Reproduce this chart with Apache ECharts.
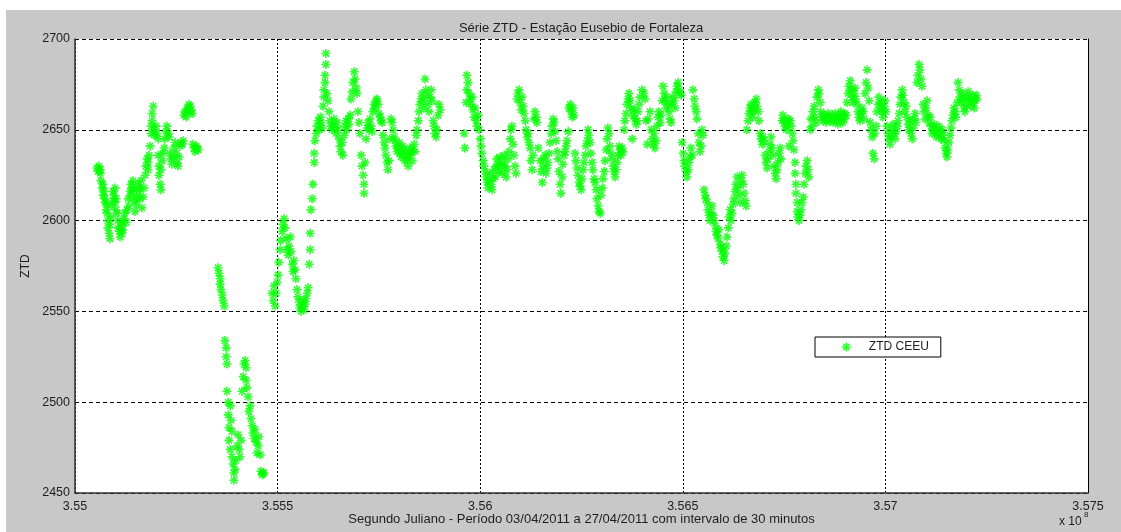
<!DOCTYPE html>
<html>
<head>
<meta charset="utf-8">
<script src="https://cdn.jsdelivr.net/npm/echarts@6/dist/echarts.min.js"></script>
<style>
  html, body { margin: 0; padding: 0; background: #ffffff; }
  #bg { position: absolute; left: 6px; top: 10px; width: 1115px; height: 522px; background: #c8c8c8; }
  #chart { position: absolute; left: 0; top: 0; width: 1121px; height: 532px; }
</style>
</head>
<body>
<div id="bg"></div>
<div id="chart"></div>
<script>
// x: Segundo Juliano (units of 1e8 s), y: ZTD (mm)
const periodo1 = [[3.55054,2629],[3.55057,2627],[3.55059,2630],[3.55062,2626],[3.55062,2628],[3.55064,2622],[3.55067,2618],[3.55069,2620],[3.55069,2614],[3.55072,2616],[3.55074,2610],[3.55074,2612],[3.55077,2606],[3.55079,2604],[3.55079,2609],[3.55081,2600],[3.55081,2596],[3.55084,2593],[3.55086,2590],[3.55086,2598],[3.55089,2602],[3.55091,2608],[3.55094,2611],[3.55094,2616],[3.55096,2614],[3.55099,2618],[3.55099,2610],[3.55101,2606],[3.55101,2612],[3.55104,2604],[3.55106,2600],[3.55106,2596],[3.55109,2594],[3.55111,2591],[3.55114,2597],[3.55116,2593],[3.55116,2599],[3.55118,2595],[3.55121,2601],[3.55123,2604],[3.55126,2599],[3.55128,2606],[3.55131,2612],[3.55133,2608],[3.55136,2616],[3.55138,2620],[3.55138,2614],[3.55141,2618],[3.55143,2622],[3.55146,2611],[3.55146,2617],[3.55148,2605],[3.55151,2609],[3.55153,2613],[3.55155,2620],[3.55158,2616],[3.55160,2612],[3.55160,2618],[3.55163,2622],[3.55165,2607],[3.55168,2613],[3.55170,2618],[3.55173,2625],[3.55175,2630],[3.55178,2634],[3.55180,2628],[3.55180,2632],[3.55183,2636],[3.55185,2641],[3.55188,2648],[3.55188,2652],[3.55190,2655],[3.55190,2659],[3.55193,2663],[3.55195,2650],[3.55197,2647],[3.55200,2652],[3.55202,2648],[3.55205,2645],[3.55205,2636],[3.55207,2630],[3.55207,2625],[3.55210,2620],[3.55212,2617],[3.55212,2628],[3.55215,2633],[3.55217,2637],[3.55220,2640],[3.55222,2645],[3.55225,2649],[3.55227,2652],[3.55230,2648],[3.55232,2646],[3.55234,2637],[3.55237,2634],[3.55239,2631],[3.55242,2635],[3.55244,2640],[3.55247,2643],[3.55249,2637],[3.55252,2632],[3.55254,2630],[3.55257,2635],[3.55259,2641],[3.55262,2643],[3.55264,2642],[3.55267,2644],[3.55269,2658],[3.55271,2660],[3.55274,2657],[3.55276,2661],[3.55279,2662],[3.55281,2664],[3.55284,2663],[3.55284,2660],[3.55286,2661],[3.55289,2659],[3.55291,2642],[3.55294,2640],[3.55296,2638],[3.55299,2641],[3.55301,2640],[3.55304,2639]];
const periodo2 = [[3.55353,2574],[3.55355,2571],[3.55358,2568],[3.55358,2565],[3.55360,2562],[3.55363,2559],[3.55365,2556],[3.55368,2553],[3.55370,2534],[3.55373,2530],[3.55373,2525],[3.55375,2521],[3.55375,2506],[3.55378,2500],[3.55378,2493],[3.55380,2486],[3.55380,2479],[3.55383,2474],[3.55383,2498],[3.55385,2490],[3.55387,2484],[3.55387,2470],[3.55390,2466],[3.55392,2461],[3.55392,2457],[3.55395,2463],[3.55397,2468],[3.55400,2476],[3.55402,2482],[3.55405,2474],[3.55407,2470],[3.55410,2479],[3.55412,2506],[3.55415,2514],[3.55417,2521],[3.55420,2523],[3.55422,2519],[3.55422,2512],[3.55424,2508],[3.55427,2503],[3.55429,2495],[3.55432,2498],[3.55434,2491],[3.55437,2487],[3.55439,2483],[3.55442,2480],[3.55444,2485],[3.55447,2478],[3.55449,2472],[3.55452,2476],[3.55454,2481],[3.55457,2471],[3.55459,2462],[3.55462,2460],[3.55464,2461],[3.55466,2461]];
const periodo3 = [[3.55486,2560],[3.55489,2556],[3.55491,2564],[3.55494,2553],[3.55496,2560],[3.55499,2566],[3.55501,2570],[3.55503,2577],[3.55506,2584],[3.55508,2589],[3.55511,2594],[3.55513,2598],[3.55516,2601],[3.55518,2596],[3.55521,2590],[3.55523,2584],[3.55526,2581],[3.55528,2586],[3.55531,2591],[3.55533,2583],[3.55536,2576],[3.55538,2572],[3.55540,2578],[3.55543,2573],[3.55545,2568],[3.55548,2562],[3.55550,2558],[3.55553,2555],[3.55555,2552],[3.55558,2550],[3.55560,2553],[3.55563,2556],[3.55565,2551],[3.55568,2554],[3.55570,2557],[3.55573,2560],[3.55575,2563],[3.55578,2576],[3.55580,2584],[3.55580,2593],[3.55582,2606],[3.55585,2612],[3.55587,2620],[3.55590,2632],[3.55590,2637],[3.55592,2644],[3.55595,2648],[3.55597,2652],[3.55600,2655],[3.55602,2650],[3.55605,2657],[3.55607,2654],[3.55610,2651],[3.55612,2663],[3.55614,2668],[3.55614,2672],[3.55617,2676],[3.55617,2680],[3.55619,2686],[3.55619,2692],[3.55622,2670],[3.55624,2666],[3.55627,2660],[3.55629,2655],[3.55632,2652],[3.55634,2650],[3.55637,2653],[3.55639,2656],[3.55642,2651],[3.55644,2648],[3.55647,2654],[3.55649,2650],[3.55652,2645],[3.55654,2641],[3.55656,2638],[3.55659,2643],[3.55661,2636],[3.55664,2647],[3.55666,2652],[3.55669,2655],[3.55671,2650],[3.55674,2656],[3.55676,2653],[3.55679,2658],[3.55681,2667],[3.55684,2671],[3.55686,2676],[3.55689,2682],[3.55691,2678],[3.55694,2673],[3.55696,2670],[3.55698,2660],[3.55701,2654],[3.55703,2648],[3.55706,2636],[3.55708,2630],[3.55711,2625],[3.55713,2620],[3.55713,2615],[3.55716,2632],[3.55718,2645],[3.55721,2651],[3.55723,2654],[3.55726,2650],[3.55728,2656]];
const periodo4 = [[3.55731,2652],[3.55733,2649],[3.55735,2660],[3.55738,2664],[3.55740,2662],[3.55743,2666],[3.55745,2667],[3.55748,2664],[3.55750,2659],[3.55753,2657],[3.55755,2655],[3.55758,2654],[3.55760,2647],[3.55763,2643],[3.55765,2640],[3.55767,2636],[3.55770,2632],[3.55772,2628],[3.55775,2633],[3.55777,2645],[3.55780,2656],[3.55782,2654],[3.55785,2650],[3.55787,2646],[3.55790,2644],[3.55792,2641],[3.55795,2638],[3.55797,2640],[3.55800,2643],[3.55802,2637],[3.55805,2635],[3.55807,2639],[3.55809,2641],[3.55812,2636],[3.55814,2633],[3.55817,2638],[3.55819,2634],[3.55822,2630],[3.55824,2636],[3.55827,2640],[3.55829,2637],[3.55832,2633],[3.55834,2639],[3.55837,2642],[3.55839,2638],[3.55842,2647],[3.55844,2650],[3.55847,2655],[3.55849,2660],[3.55851,2664],[3.55854,2667],[3.55856,2670],[3.55859,2666],[3.55861,2662],[3.55864,2678],[3.55866,2672],[3.55869,2669],[3.55871,2664],[3.55874,2660],[3.55876,2668],[3.55879,2672],[3.55881,2666],[3.55884,2655],[3.55886,2652],[3.55888,2648],[3.55891,2646],[3.55893,2650],[3.55896,2658],[3.55898,2664],[3.55901,2661]];
const periodo5 = [[3.55960,2648],[3.55962,2640],[3.55965,2665],[3.55967,2672],[3.55967,2680],[3.55970,2676],[3.55972,2670],[3.55975,2667],[3.55977,2664],[3.55980,2668],[3.55982,2661],[3.55985,2657],[3.55987,2662],[3.55990,2655],[3.55992,2652],[3.55995,2658],[3.55997,2650],[3.56000,2645],[3.56002,2641],[3.56004,2637],[3.56007,2633],[3.56009,2630],[3.56012,2627],[3.56014,2624],[3.56017,2621],[3.56019,2618],[3.56022,2622],[3.56024,2626],[3.56027,2620],[3.56029,2617],[3.56032,2623],[3.56034,2628],[3.56037,2624],[3.56039,2630],[3.56041,2634],[3.56044,2631],[3.56046,2627],[3.56049,2635],[3.56051,2630],[3.56054,2626],[3.56056,2632],[3.56059,2636],[3.56061,2630],[3.56064,2624],[3.56066,2628],[3.56069,2634],[3.56071,2638],[3.56074,2645],[3.56076,2650],[3.56078,2652],[3.56081,2642],[3.56083,2636],[3.56086,2630],[3.56088,2626],[3.56091,2667],[3.56093,2670],[3.56096,2672],[3.56098,2665],[3.56101,2661],[3.56103,2668],[3.56106,2663],[3.56108,2659],[3.56111,2655]];
const periodo6 = [[3.56113,2650],[3.56116,2646],[3.56118,2648],[3.56120,2643],[3.56123,2640],[3.56125,2633],[3.56128,2628],[3.56130,2636],[3.56133,2656],[3.56135,2660],[3.56138,2657],[3.56140,2654],[3.56143,2640],[3.56148,2633],[3.56150,2627],[3.56153,2621],[3.56155,2630],[3.56157,2634],[3.56160,2636],[3.56162,2626],[3.56165,2629],[3.56167,2632],[3.56170,2637],[3.56172,2643],[3.56175,2648],[3.56177,2652],[3.56180,2656],[3.56182,2654],[3.56185,2649],[3.56187,2644],[3.56190,2638],[3.56192,2634],[3.56194,2627],[3.56197,2620],[3.56199,2615],[3.56202,2624],[3.56204,2631],[3.56207,2636],[3.56209,2638],[3.56212,2641],[3.56214,2644],[3.56217,2649],[3.56219,2662],[3.56222,2664],[3.56224,2660],[3.56227,2657],[3.56229,2662],[3.56231,2658],[3.56234,2637],[3.56236,2633],[3.56239,2629],[3.56241,2625],[3.56244,2621],[3.56246,2619],[3.56249,2617],[3.56251,2623],[3.56254,2628],[3.56256,2632],[3.56259,2636],[3.56261,2641],[3.56264,2644],[3.56266,2650],[3.56268,2647],[3.56271,2643],[3.56273,2637],[3.56276,2632],[3.56278,2628],[3.56281,2623],[3.56283,2621],[3.56286,2617],[3.56288,2612],[3.56291,2608],[3.56293,2605],[3.56296,2604],[3.56298,2614],[3.56301,2618],[3.56303,2623],[3.56306,2627],[3.56308,2633],[3.56311,2639],[3.56313,2645],[3.56315,2651],[3.56318,2648],[3.56320,2641],[3.56323,2637],[3.56325,2634],[3.56328,2630],[3.56330,2627],[3.56333,2624],[3.56335,2628],[3.56338,2632],[3.56340,2636],[3.56343,2641],[3.56345,2639],[3.56348,2636],[3.56350,2640],[3.56352,2638],[3.56355,2650],[3.56357,2655],[3.56360,2659],[3.56362,2664],[3.56365,2667],[3.56367,2670],[3.56370,2666],[3.56372,2662],[3.56375,2645],[3.56377,2658],[3.56380,2661],[3.56382,2656],[3.56385,2653],[3.56387,2655],[3.56389,2660],[3.56392,2664],[3.56394,2668],[3.56399,2672],[3.56404,2670],[3.56407,2667],[3.56409,2655],[3.56412,2642],[3.56414,2656],[3.56419,2660]];
const periodo7 = [[3.56422,2650],[3.56424,2645],[3.56427,2642],[3.56429,2648],[3.56431,2640],[3.56434,2644],[3.56436,2652],[3.56439,2657],[3.56441,2660],[3.56444,2654],[3.56446,2658],[3.56449,2666],[3.56451,2674],[3.56454,2670],[3.56456,2666],[3.56459,2662],[3.56461,2668],[3.56464,2664],[3.56466,2660],[3.56468,2656],[3.56471,2654],[3.56473,2664],[3.56476,2668],[3.56478,2666],[3.56481,2662],[3.56483,2671],[3.56486,2674],[3.56488,2676],[3.56491,2672],[3.56493,2670],[3.56496,2669],[3.56498,2643],[3.56501,2637],[3.56503,2633],[3.56505,2630],[3.56508,2627],[3.56510,2624],[3.56513,2628],[3.56515,2632],[3.56518,2635],[3.56520,2640],[3.56523,2636],[3.56525,2672],[3.56528,2667],[3.56530,2663],[3.56533,2660],[3.56535,2656],[3.56538,2648],[3.56540,2643],[3.56542,2638],[3.56545,2641],[3.56547,2650],[3.56550,2647],[3.56552,2617],[3.56555,2614],[3.56557,2612],[3.56560,2610],[3.56562,2606],[3.56565,2603],[3.56567,2600],[3.56570,2604],[3.56572,2608],[3.56575,2603],[3.56577,2600],[3.56580,2597],[3.56582,2594],[3.56584,2592],[3.56587,2590],[3.56589,2595],[3.56592,2587],[3.56594,2585],[3.56597,2583],[3.56599,2580],[3.56602,2578],[3.56604,2582],[3.56607,2586],[3.56609,2591],[3.56612,2596],[3.56614,2602],[3.56617,2606],[3.56619,2600],[3.56621,2604],[3.56624,2609],[3.56626,2612],[3.56629,2616],[3.56631,2620],[3.56634,2624],[3.56636,2618],[3.56639,2614],[3.56641,2610],[3.56644,2622],[3.56646,2625],[3.56649,2620],[3.56651,2615],[3.56654,2611],[3.56656,2608],[3.56658,2650],[3.56661,2655],[3.56663,2659],[3.56666,2662],[3.56668,2664],[3.56671,2660],[3.56673,2657],[3.56676,2661],[3.56678,2665],[3.56681,2667],[3.56683,2663],[3.56686,2660],[3.56688,2655],[3.56691,2648],[3.56693,2645],[3.56696,2642],[3.56698,2646],[3.56700,2644],[3.56703,2636],[3.56705,2632],[3.56708,2629],[3.56710,2634],[3.56713,2638],[3.56715,2642],[3.56718,2646],[3.56720,2640],[3.56723,2636],[3.56725,2630],[3.56728,2626],[3.56730,2623],[3.56733,2628],[3.56735,2632],[3.56737,2637],[3.56740,2640],[3.56742,2634],[3.56745,2655],[3.56747,2658],[3.56750,2655],[3.56752,2652],[3.56755,2650],[3.56757,2653],[3.56760,2656],[3.56762,2641]];
const periodo8 = [[3.56765,2655],[3.56767,2652],[3.56770,2648],[3.56772,2644],[3.56774,2639],[3.56777,2632],[3.56777,2626],[3.56779,2620],[3.56779,2615],[3.56782,2610],[3.56782,2605],[3.56784,2602],[3.56787,2600],[3.56789,2603],[3.56792,2606],[3.56794,2610],[3.56797,2613],[3.56799,2620],[3.56802,2626],[3.56804,2630],[3.56807,2633],[3.56809,2628],[3.56811,2624],[3.56814,2650],[3.56816,2656],[3.56819,2652],[3.56821,2660],[3.56824,2663],[3.56826,2657],[3.56829,2654],[3.56831,2668],[3.56834,2672],[3.56836,2670],[3.56839,2665],[3.56841,2660],[3.56844,2657],[3.56846,2655],[3.56848,2658],[3.56851,2656],[3.56853,2654],[3.56856,2657],[3.56858,2659],[3.56861,2656],[3.56863,2655],[3.56866,2657],[3.56868,2658],[3.56871,2654],[3.56873,2656],[3.56876,2659],[3.56878,2657],[3.56881,2655],[3.56883,2653],[3.56886,2656],[3.56888,2658],[3.56890,2660],[3.56893,2657],[3.56895,2654],[3.56898,2656],[3.56900,2659],[3.56903,2658],[3.56905,2665],[3.56908,2670],[3.56910,2674],[3.56913,2677],[3.56915,2672],[3.56918,2668],[3.56920,2665],[3.56923,2670],[3.56925,2673],[3.56927,2667],[3.56930,2664],[3.56932,2660],[3.56935,2657],[3.56937,2655],[3.56940,2659],[3.56942,2662],[3.56945,2660],[3.56947,2656],[3.56950,2670],[3.56952,2676],[3.56955,2683],[3.56957,2673],[3.56960,2666],[3.56962,2654],[3.56964,2650],[3.56967,2646],[3.56969,2637],[3.56972,2634],[3.56974,2648],[3.56977,2652],[3.56979,2660],[3.56982,2664],[3.56984,2668],[3.56987,2665],[3.56989,2662],[3.56992,2660],[3.56994,2657],[3.56997,2663],[3.56999,2666],[3.57001,2660],[3.57004,2652],[3.57006,2648],[3.57009,2645],[3.57011,2642],[3.57014,2646],[3.57016,2650],[3.57019,2653],[3.57021,2648],[3.57024,2645],[3.57026,2649],[3.57029,2652],[3.57031,2655],[3.57034,2659],[3.57036,2664],[3.57038,2668],[3.57041,2672],[3.57043,2669],[3.57046,2665],[3.57048,2660],[3.57051,2663],[3.57053,2657],[3.57056,2653],[3.57058,2650],[3.57061,2655],[3.57063,2648],[3.57066,2645],[3.57068,2651],[3.57071,2656],[3.57073,2659],[3.57075,2654],[3.57078,2676],[3.57080,2680],[3.57083,2686],[3.57085,2683],[3.57088,2678],[3.57090,2674],[3.57093,2664],[3.57095,2660],[3.57098,2656],[3.57100,2662],[3.57103,2666],[3.57105,2658],[3.57108,2654],[3.57110,2657]];
const periodo9 = [[3.57113,2652],[3.57115,2648],[3.57117,2650],[3.57120,2653],[3.57122,2649],[3.57125,2646],[3.57127,2650],[3.57130,2648],[3.57132,2652],[3.57135,2649],[3.57137,2645],[3.57140,2650],[3.57142,2647],[3.57145,2644],[3.57147,2640],[3.57150,2637],[3.57152,2635],[3.57154,2639],[3.57157,2643],[3.57159,2647],[3.57162,2651],[3.57164,2655],[3.57167,2658],[3.57169,2662],[3.57172,2660],[3.57174,2657],[3.57177,2665],[3.57179,2676],[3.57182,2672],[3.57184,2668],[3.57187,2665],[3.57189,2670],[3.57191,2667],[3.57194,2662],[3.57196,2660],[3.57199,2664],[3.57201,2668],[3.57204,2671],[3.57206,2667],[3.57209,2663],[3.57211,2666],[3.57214,2669],[3.57216,2665],[3.57219,2662],[3.57221,2666],[3.57224,2669],[3.57226,2667]];

const xTicks = { min: 3.55, max: 3.575, interval: 0.005 };
const yTicks = { min: 2450, max: 2700, interval: 50 };
const tituloTexto = 'Série ZTD - Estação Eusebio de Fortaleza';
const eixoX = 'Segundo Juliano - Período 03/04/2011 a 27/04/2011 com intervalo de 30 minutos';
const eixoY = 'ZTD';
const serieNome = 'ZTD CEEU';

const dados = [].concat(periodo1, periodo2, periodo3, periodo4, periodo5, periodo6, periodo7, periodo8, periodo9);

const STAR = 'path://M0 5L10 5M5 0L5 10M1.5 1.5L8.5 8.5M8.5 1.5L1.5 8.5';
const FONT = '"Liberation Sans", Arial, sans-serif';
const txt = '#1e1e1e';

const chart = echarts.init(document.getElementById('chart'), null, { renderer: 'canvas' });
chart.setOption({
  backgroundColor: 'transparent',
  animation: false,
  grid: { left: 75, right: 33, top: 39, bottom: 39, show: true, backgroundColor: '#ffffff', borderWidth: 0 },
  xAxis: {
    type: 'value', min: xTicks.min, max: xTicks.max, interval: xTicks.interval,
    name: eixoX, nameLocation: 'middle', nameGap: 20, nameMoveOverlap: false,
    nameTextStyle: { color: txt, fontSize: 13, fontFamily: FONT },
    axisLine: { show: true, onZero: false, lineStyle: { color: '#333', width: 1.5 } },
    axisTick: { show: false },
    axisLabel: { color: txt, fontSize: 12.5, fontFamily: FONT, margin: 7,
      formatter: v => String(parseFloat(v.toFixed(4))) },
    splitLine: { show: true, lineStyle: { color: '#000', width: 1, type: [2, 2] } }
  },
  yAxis: [{
    type: 'value', min: yTicks.min, max: yTicks.max, interval: yTicks.interval,
    name: eixoY, nameLocation: 'middle', nameGap: 37, nameRotate: 90,
    nameTextStyle: { color: txt, fontSize: 12, fontFamily: FONT },
    axisLine: { show: true, lineStyle: { color: '#333', width: 1.5 } },
    axisTick: { show: false },
    axisLabel: { color: txt, fontSize: 12.5, fontFamily: FONT, margin: 5, formatter: v => String(v) },
    splitLine: { show: true, lineStyle: { color: '#000', width: 1, type: [4, 3] } }
  }, {
    type: 'value', min: yTicks.min, max: yTicks.max, interval: yTicks.interval, position: 'right',
    axisLine: { show: true, lineStyle: { color: '#000', width: 1 } },
    axisTick: { show: false }, axisLabel: { show: false }, splitLine: { show: false }
  }],
  legend: {
    show: true, left: 815, top: 337,
    backgroundColor: '#ffffff', borderColor: '#000', borderWidth: 1, borderRadius: 0,
    padding: [4, 12, 4, 26], itemWidth: 9, itemHeight: 9,
    icon: STAR,
    itemStyle: { color: 'transparent', borderColor: '#00ff00', borderWidth: 1.6 },
    textStyle: { color: txt, fontSize: 12, fontFamily: FONT, padding: [0, 0, 0, 13] },
    data: [serieNome]
  },
  graphic: [
    { type: 'text', x: 581, y: 28, style: { text: tituloTexto, textAlign: 'center', textVerticalAlign: 'middle', font: '13px ' + FONT, fill: txt } },
    { type: 'text', x: 1059, y: 522, style: { text: 'x 10', textAlign: 'left', textVerticalAlign: 'middle', font: '12px ' + FONT, fill: txt } },
    { type: 'text', x: 1084, y: 515, style: { text: '8', textAlign: 'left', textVerticalAlign: 'middle', font: '8px ' + FONT, fill: txt } }
  ],
  series: [{
    name: serieNome, type: 'scatter', data: dados,
    symbol: STAR, symbolSize: 9,
    itemStyle: { color: 'transparent', borderColor: '#00ff00', borderWidth: 1.6 },
    emphasis: { disabled: true }
  }]
});
</script>
</body>
</html>
